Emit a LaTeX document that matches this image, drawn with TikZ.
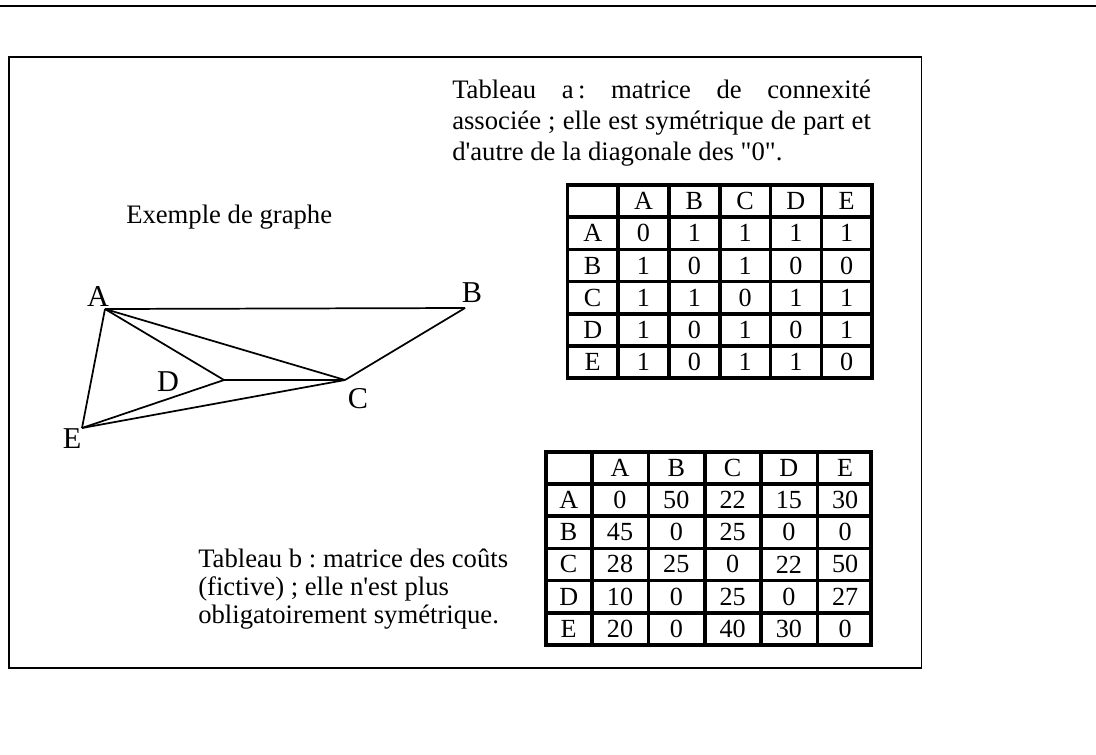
\documentclass[tikz,border=0pt]{standalone}
\usepackage{fontspec}
\setmainfont{Liberation Serif}[Ligatures=TeXOff]
\usetikzlibrary{positioning}
\frenchspacing

\begin{document}
\begin{tikzpicture}[x=0.75pt, y=-0.75pt,
    txt/.style={inner sep=0pt, font=\fontsize{20}{23.25}\selectfont},
    vlabel/.style={inner sep=0pt, font=\fontsize{22.7}{27}\selectfont},
    cell/.style={inner sep=0pt, font=\fontsize{19.6}{24}\selectfont},
    edge/.style={line width=1.3pt},
    tab/.style={line width=2.7pt, line cap=rect}]
    \useasboundingbox (0,0) rectangle (1096,754);
    \coordinate (rl) at (0,6);
    \coordinate (rr) at (1096,6);
    \draw[line width=1.5pt] (rl) -- (rr);
    \draw[line width=1.2pt] (9,57) rectangle (921.5,668);

    \coordinate (A) at (105,309);
    \coordinate (B) at (465,308);
    \coordinate (C) at (345,380);
    \coordinate (D) at (224,380);
    \coordinate (E) at (82,428);
    \node[vlabel] (lA) at (98,297) {A};
    \node[vlabel] (lB) at (472,293) {B};
    \node[vlabel] (lC) at (358,399) {C};
    \node[vlabel] (lD) at (168,382) {D};
    \node[vlabel] (lE) at (72,439) {E};
    \foreach \u/\v in {A/B,A/C,A/D,A/E,B/C,D/C,E/D,E/C}
        \draw[edge] (\u) -- (\v);

    \node[txt, anchor=base west] (ex) at (126,223) {Exemple de graphe};
    \node[txt, anchor=north west, text width=314pt, align=justify] (tabA) at (452,80)
        {Tableau a\,: matrice de connexité\linebreak associée ; elle est symétrique de part et\linebreak d'autre de la diagonale des "0".};
    \node[txt, anchor=north west, align=left, font=\fontsize{20}{21}\selectfont] (tabB) at (198,549)
        {Tableau b : matrice des coûts\\(fictive) ; elle n'est plus\\obligatoirement symétrique.};

    \foreach \k in {0,...,6} {
        \draw[tab] (567.3+50.8*\k,185) -- (567.3+50.8*\k,378.2);
        \draw[tab] (567.3,185+32.2*\k) -- (872.1,185+32.2*\k);
    }
    \foreach \h [count=\j] in {A,B,C,D,E} {
        \node[cell] (a-0-\j) at (592.7+50.8*\j,201.1) {\h};
        \node[cell] (a-\j-0) at (592.7,201.1+32.2*\j) {\h};
    }
    \foreach \vals [count=\i] in {{0,1,1,1,1},{1,0,1,0,0},{1,1,0,1,1},{1,0,1,0,1},{1,0,1,1,0}} {
        \foreach \v [count=\j] in \vals
            \node[cell] (a-\i-\j) at (592.7+50.8*\j,201.1+32.2*\i) {\v};
    }

    \foreach \x in {545.7,591.7,648.3,705,761,817.3,870.7}
        \draw[tab] (\x,451.7) -- (\x,644.9);
    \foreach \k in {0,...,6}
        \draw[tab] (545.7,451.7+32.2*\k) -- (870.7,451.7+32.2*\k);
    \foreach \h [count=\j] in {A,B,C,D,E} {
        \node[cell] (b-0-\j) at (563.7+56.3*\j,467.8) {\h};
        \node[cell] (b-\j-0) at (568.7,467.8+32.2*\j) {\h};
    }
    \foreach \vals [count=\i] in {{0,50,22,15,30},{45,0,25,0,0},{28,25,0,22,50},{10,0,25,0,27},{20,0,40,30,0}} {
        \foreach \v [count=\j] in \vals
            \node[cell] (b-\i-\j) at (563.7+56.3*\j,467.8+32.2*\i) {\v};
    }
\end{tikzpicture}
\end{document}
